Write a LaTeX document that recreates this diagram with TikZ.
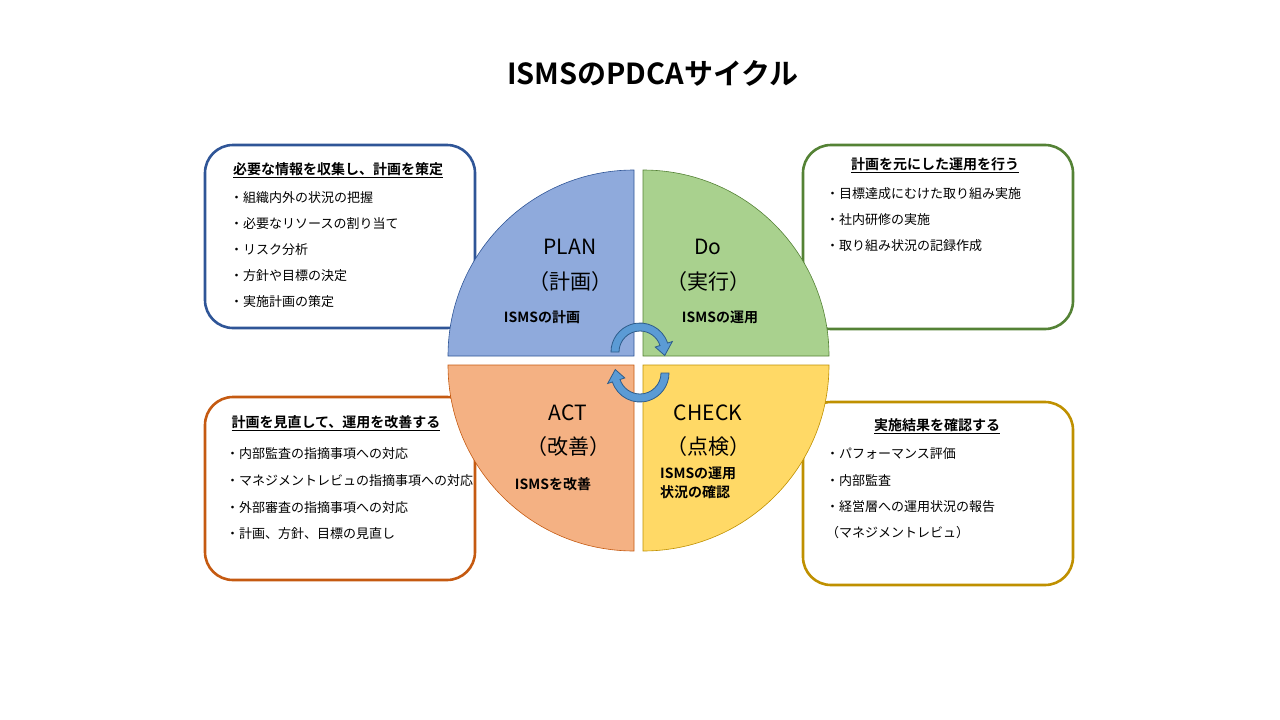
\documentclass[tikz,border=0pt]{standalone}
\usepackage{fontspec}
\setmainfont{Noto Sans CJK JP}
\newfontfamily\jpb{Noto Sans CJK JP Bold}
\begin{document}
\begin{tikzpicture}[x=1pt,y=1pt,
 box/.style={draw,line width=2.6pt,rounded corners=28pt,fill=white},
 ttl/.style={font=\jpb\fontsize{14}{16}\selectfont},
 itm/.style={anchor=west,font=\fontsize{13}{15}\selectfont,inner sep=0},
 big/.style={font=\fontsize{21}{24}\selectfont},
 sub/.style={font=\jpb\fontsize{14}{16}\selectfont},
 arr/.style={fill=arrblue,draw=arrdark,line width=0.8pt}]
\definecolor{arrblue}{HTML}{5B9BD5}\definecolor{arrdark}{HTML}{2E5C8A}
\useasboundingbox (0,0) rectangle (1280,-720);
\node[font=\jpb\fontsize{29}{32}\selectfont] (title) at (653,-73) {ISMSのPDCAサイクル};
\draw[box,draw={rgb,255:red,47;green,85;blue,151}] (205,-145) rectangle (475,-328);
\draw[box,draw={rgb,255:red,84;green,130;blue,53}] (803,-145) rectangle (1073,-329);
\draw[box,draw={rgb,255:red,197;green,90;blue,17}] (205,-397) rectangle (475,-580);
\draw[box,draw={rgb,255:red,191;green,144;blue,0}] (803,-402) rectangle (1073,-585);
% quadrants
\draw[fill={rgb,255:red,143;green,170;blue,220},draw={rgb,255:red,47;green,85;blue,151},line width=0.6pt] (634,-356) -- (448,-356) arc (180:90:186) -- cycle;
\draw[fill={rgb,255:red,169;green,209;blue,142},draw={rgb,255:red,84;green,130;blue,53},line width=0.6pt] (643,-356) -- (643,-170) arc (90:0:186) -- cycle;
\draw[fill={rgb,255:red,244;green,177;blue,131},draw={rgb,255:red,197;green,90;blue,17},line width=0.6pt] (634,-365) -- (448,-365) arc (180:270:186) -- cycle;
\draw[fill={rgb,255:red,255;green,217;blue,102},draw={rgb,255:red,191;green,144;blue,0},line width=0.6pt] (643,-365) -- (829,-365) arc (0:-90:186) -- cycle;
% arrows
\begin{scope}[shift={(640,-352)}]
\draw[arr] (180:21) arc (180:18:21) -- (18:16) -- (-8:25) -- (18:34) -- (18:29) arc (18:180:29) -- cycle;
\end{scope}
\begin{scope}[shift={(640,-373)},rotate=180]
\draw[arr] (180:21) arc (180:18:21) -- (18:16) -- (-8:25) -- (18:34) -- (18:29) arc (18:180:29) -- cycle;
\end{scope}
% quadrant texts
\node[big] (p1) at (570,-247) {PLAN};
\node[big] (p2) at (570,-282) {（計画）};
\node[sub] (p3) at (542,-317) {ISMSの計画};
\node[big] (d1) at (708,-247) {Do};
\node[big] (d2) at (708,-282) {（実行）};
\node[sub] (d3) at (720,-317) {ISMSの運用};
\node[big] (a1) at (568,-413) {ACT};
\node[big] (a2) at (568,-447) {（改善）};
\node[sub] (a3) at (553,-484) {ISMSを改善};
\node[big] (c1) at (708,-413) {CHECK};
\node[big] (c2) at (708,-447) {（点検）};
\node[sub,anchor=west,align=left,inner sep=0,font=\jpb\fontsize{14}{19}\selectfont] (c3) at (660,-483) {ISMSの運用\\状況の確認};
% box texts
\node[ttl] (t1) at (338,-170) {\underline{必要な情報を収集し、計画を策定}};
\node[itm] (t1a) at (230,-198) {・組織内外の状況の把握};
\node[itm] (t1b) at (230,-224) {・必要なリソースの割り当て};
\node[itm] (t1c) at (230,-250) {・リスク分析};
\node[itm] (t1d) at (230,-276) {・方針や目標の決定};
\node[itm] (t1e) at (230,-302) {・実施計画の策定};
\node[ttl] (t2) at (935,-165) {\underline{計画を元にした運用を行う}};
\node[itm] (t2a) at (826,-194) {・目標達成にむけた取り組み実施};
\node[itm] (t2b) at (826,-220) {・社内研修の実施};
\node[itm] (t2c) at (826,-246) {・取り組み状況の記録作成};
\node[ttl] (t3) at (336,-423) {\underline{計画を見直して、運用を改善する}};
\node[itm] (t3a) at (226,-454) {・内部監査の指摘事項への対応};
\node[itm] (t3b) at (226,-481) {・マネジメントレビュの指摘事項への対応};
\node[itm] (t3c) at (226,-508) {・外部審査の指摘事項への対応};
\node[itm] (t3d) at (226,-534) {・計画、方針、目標の見直し};
\node[ttl] (t4) at (937,-426) {\underline{実施結果を確認する}};
\node[itm] (t4a) at (826,-454) {・パフォーマンス評価};
\node[itm] (t4b) at (826,-481) {・内部監査};
\node[itm] (t4c) at (826,-507) {・経営層への運用状況の報告};
\node[itm] (t4d) at (826,-533) {（マネジメントレビュ）};
\end{tikzpicture}
\end{document}
